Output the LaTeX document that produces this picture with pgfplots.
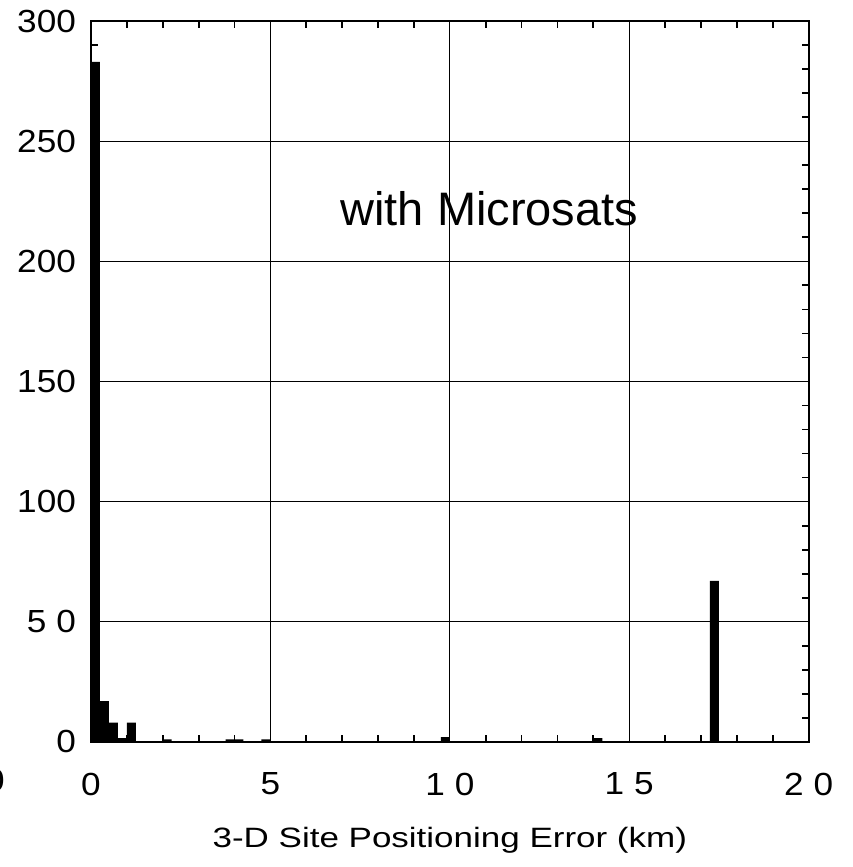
\documentclass[border=0pt]{standalone}
\usepackage{pgfplots}
\pgfplotsset{compat=1.18}
\usepackage{fontspec}
\setmainfont{Liberation Sans}
\newfontfamily\tickfont[FakeStretch=1.1]{Liberation Sans}
\newfontfamily\titlefont[FakeStretch=1.25]{Liberation Sans}
\begin{document}
\begin{tikzpicture}
\begin{axis}[
  scale only axis,
  width=359pt, height=360.5pt,
  xmin=0, xmax=20, ymin=0, ymax=300,
  xtick={0,5,10,15,20},
  xticklabels={0,5,1\kern5pt0,1\kern5pt5,2\kern5pt0},
  ytick={0,50,100,150,200,250,300},
  yticklabels={0,5\kern5pt0,100,150,200,250,300},
  minor xtick={1,2,3,4,6,7,8,9,11,12,13,14,16,17,18,19},
  minor ytick={10,20,30,40,60,70,80,90,110,120,130,140,160,170,180,190,210,220,230,240,260,270,280,290},
  tick align=inside,
  major tick length=0pt,
  minor tick length=3.5pt,
  tick style={black, line width=0.9pt},
  grid=major,
  major grid style={black, line width=0.5pt},
  axis line style={black, line width=0.9pt},
  ticklabel style={font=\tickfont\fontsize{16}{19}\selectfont},
  /pgf/number format/assume math mode=true,
  xticklabel style={yshift=-12pt},
  yticklabel style={xshift=-4pt},
  clip=false,
]
\addplot[ybar, bar width=0.25, bar shift=0pt, fill=black, draw=none] coordinates {
  (0.125,283) (0.375,17) (0.625,8) (0.875,1.5) (1.125,8)
  (2.125,1) (3.875,1) (4.125,1) (4.875,1) (9.875,2)
  (14.125,1.5) (17.375,67)
};
\node[font=\fontsize{23.5}{26}\selectfont] at (axis cs:11.1,222) {with Microsats};
\node[font=\titlefont\fontsize{14}{17}\selectfont] at (axis cs:10,-41) {3-D Site Positioning Error (km)};
\node[font=\tickfont\fontsize{16}{19}\selectfont] at (axis cs:-2.68,-16) {0};
\coordinate (bbl) at (axis cs:-2.535,-52.1);
\coordinate (btr) at (axis cs:21.23,308.8);
\end{axis}
\pgfresetboundingbox
\path[use as bounding box] (bbl) rectangle (btr);
\end{tikzpicture}
\end{document}
